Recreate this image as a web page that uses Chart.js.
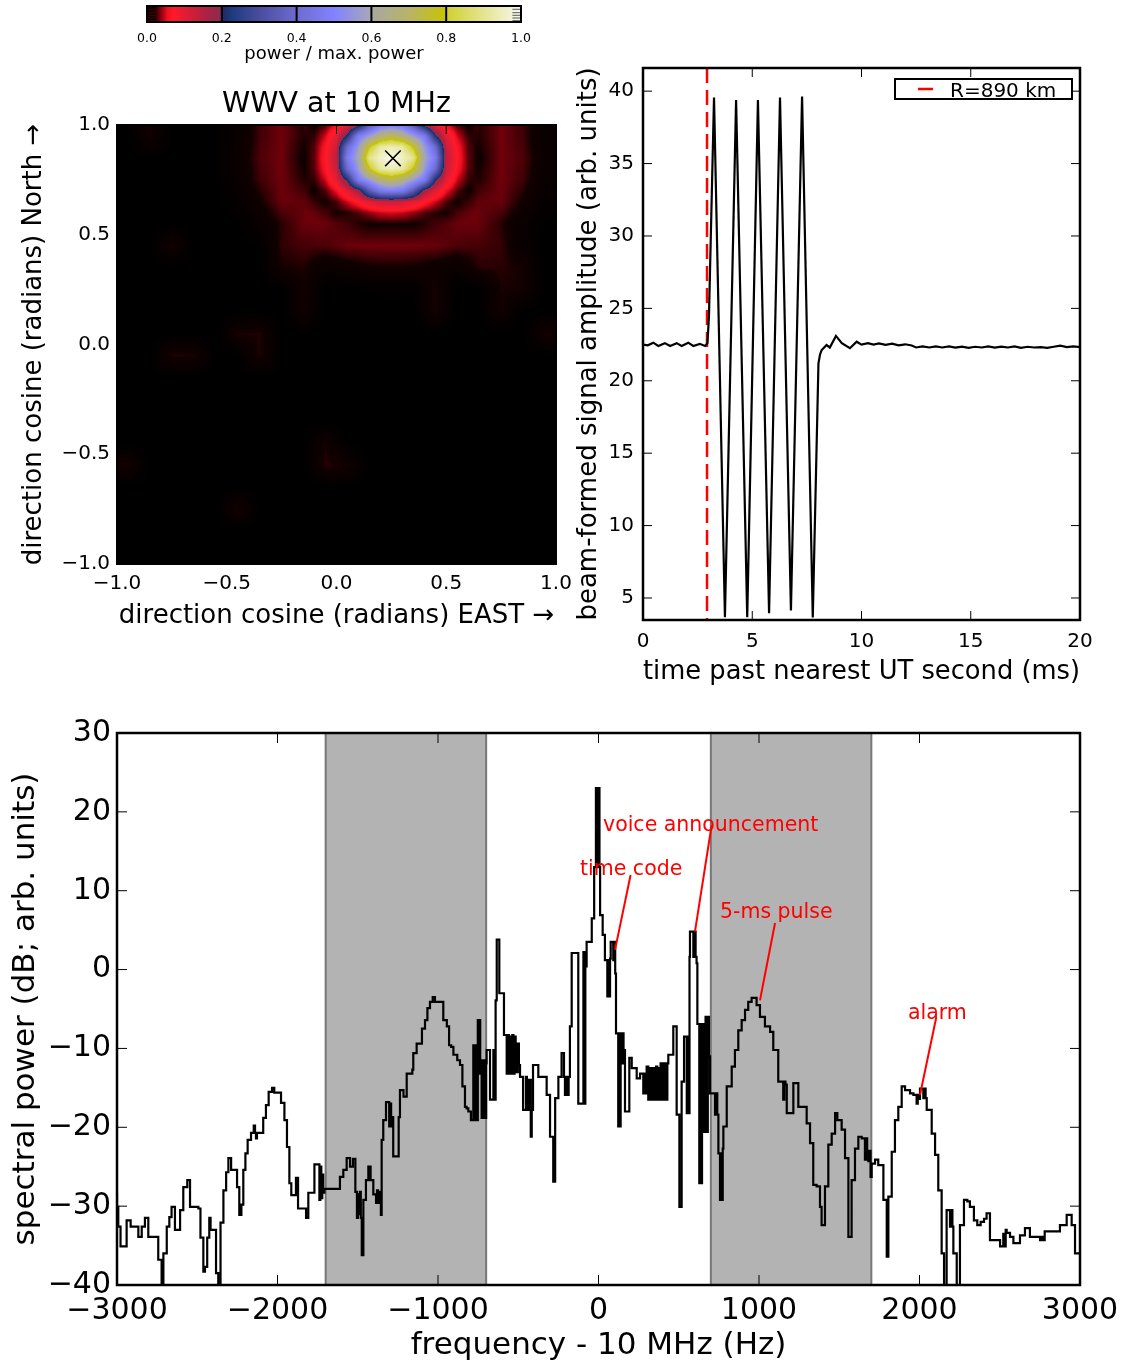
<!DOCTYPE html>
<html>
<head>
<meta charset="utf-8">
<script src="https://cdn.jsdelivr.net/npm/chart.js@4.4.1/dist/chart.umd.min.js"></script>
<style>
  body { margin: 0; background: #fff; }
  #page { position: relative; width: 1135px; height: 1366px; overflow: hidden; }
  .box { position: absolute; }
</style>
</head>
<body>
<div id="page">
  <div class="box" style="left:100px;top:0;width:470px;height:70px"><canvas id="cbar" width="470" height="70"></canvas></div>
  <div class="box" style="left:0;top:70px;width:600px;height:570px"><canvas id="beam" width="600" height="570"></canvas></div>
  <div class="box" style="left:560px;top:40px;width:575px;height:660px"><canvas id="pulse" width="575" height="660"></canvas></div>
  <div class="box" style="left:0;top:700px;width:1135px;height:666px"><canvas id="spec" width="1135" height="666"></canvas></div>
</div>
<script>
// ---- colour map / colour bar ----
const cbarTicks = [0, 0.2, 0.4, 0.6, 0.8, 1.0];
const cmapStops = [0, 0.02, 0.03, 0.04, 0.055, 0.07, 0.1, 0.15, 0.199, 0.2, 0.23, 0.3, 0.4, 0.5, 0.6, 0.601, 0.7, 0.8, 0.801, 0.9, 1.0];
const cmapColors = ['#000000', '#120000', '#5a0008', '#a00010', '#f01020', '#ff1a28', '#e41c34', '#b42040', '#8a2c52', '#1c2a60',
  '#1e3c82', '#4a4c9e', '#6c6cd0', '#8282ff', '#a8a8b8', '#a8a8a0', '#b8b468', '#c8c400', '#d0d030', '#e4e490', '#f8f8ec'];

// ---- beam map (power / max power): coarse cells over the whole sky ----
const beamX = [-0.95, -0.85, -0.75, -0.65, -0.55, -0.45, -0.35, -0.25, -0.15, -0.05, 0.05, 0.15, 0.25, 0.35, 0.45, 0.55, 0.65, 0.75, 0.85, 0.95];
const beamY = [0.95, 0.85, 0.75, 0.65, 0.55, 0.45, 0.35, 0.25, 0.15, 0.05, -0.05, -0.15, -0.25, -0.35, -0.45, -0.55, -0.65, -0.75, -0.85, -0.95];
const beamPower = [
  [0, 0.02, 0, 0, 0.001, 0.01, 0.026, 0.033, 0.022, 0.048, 0.216, 0.564, 0.72, 0.564, 0.216, 0.048, 0.022, 0.033, 0.026, 0.01],
  [0, 0, 0, 0, 0.001, 0.012, 0.028, 0.033, 0.018, 0.07, 0.47, 0.9, 1.0, 0.9, 0.47, 0.07, 0.018, 0.033, 0.028, 0.012],
  [0, 0, 0, 0, 0.001, 0.01, 0.026, 0.033, 0.022, 0.048, 0.216, 0.564, 0.72, 0.564, 0.216, 0.048, 0.022, 0.033, 0.026, 0.01],
  [0, 0, 0, 0, 0, 0.006, 0.019, 0.032, 0.031, 0.019, 0.048, 0.1, 0.126, 0.1, 0.048, 0.019, 0.031, 0.032, 0.019, 0.006],
  [0, 0, 0, 0, 0, 0.001, 0.01, 0.023, 0.032, 0.032, 0.026, 0.019, 0.02, 0.019, 0.026, 0.032, 0.032, 0.023, 0.01, 0.001],
  [0, 0, 0.02, 0, 0, 0, 0.002, 0.024, 0.027, 0.028, 0.032, 0.033, 0.033, 0.033, 0.032, 0.028, 0.027, 0.025, 0.01, 0],
  [0, 0, 0, 0, 0, 0, 0, 0.02, 0.022, 0.01, 0.015, 0.019, 0.02, 0.019, 0.015, 0.01, 0.023, 0.023, 0.02, 0],
  [0, 0, 0, 0, 0, 0, 0, 0, 0.019, 0, 0.001, 0.002, 0.003, 0.002, 0.021, 0, 0, 0.021, 0.02, 0],
  [0, 0, 0, 0, 0, 0, 0, 0, 0.018, 0, 0, 0, 0, 0, 0.021, 0, 0, 0.019, 0, 0],
  [0, 0, 0, 0, 0, 0.021, 0.022, 0, 0, 0, 0, 0, 0, 0, 0, 0, 0, 0, 0, 0.02],
  [0, 0, 0.022, 0.021, 0, 0, 0.022, 0, 0, 0, 0, 0, 0, 0, 0, 0, 0, 0, 0, 0],
  [0, 0, 0, 0, 0, 0, 0, 0, 0, 0, 0, 0, 0, 0, 0, 0, 0, 0, 0, 0],
  [0, 0, 0, 0, 0, 0, 0, 0, 0, 0, 0, 0, 0, 0, 0, 0, 0, 0, 0, 0],
  [0, 0, 0, 0, 0, 0, 0, 0, 0, 0, 0, 0, 0, 0, 0, 0, 0, 0, 0, 0],
  [0, 0, 0, 0, 0, 0, 0, 0, 0, 0.02, 0, 0, 0, 0, 0, 0, 0, 0, 0, 0],
  [0.02, 0, 0, 0, 0, 0, 0, 0, 0, 0.023, 0.02, 0, 0, 0, 0, 0, 0, 0, 0, 0],
  [0, 0, 0, 0, 0, 0, 0, 0, 0, 0, 0, 0, 0, 0, 0, 0, 0, 0, 0, 0],
  [0, 0, 0, 0, 0, 0.021, 0, 0, 0, 0, 0, 0, 0, 0, 0, 0, 0, 0, 0, 0],
  [0, 0, 0, 0, 0, 0, 0, 0, 0, 0, 0, 0, 0, 0, 0, 0, 0, 0, 0, 0],
  [0, 0, 0, 0, 0, 0, 0, 0, 0, 0, 0, 0, 0, 0, 0, 0, 0, 0, 0, 0]
];
// finer cells around the main lobe and first ring
const coreX = [-0.15, -0.1, -0.05, 0, 0.05, 0.1, 0.15, 0.2, 0.25, 0.3, 0.35, 0.4, 0.45, 0.5, 0.55, 0.6, 0.65];
const coreY = [1.0, 0.95, 0.9, 0.85, 0.8, 0.75, 0.7, 0.65, 0.6, 0.55];
const corePower = [
  [0.027, 0.018, 0.028, 0.056, 0.099, 0.166, 0.344, 0.461, 0.483, 0.461, 0.344, 0.166, 0.099, 0.056, 0.028, 0.018, 0.027],
  [0.022, 0.024, 0.048, 0.096, 0.216, 0.474, 0.564, 0.664, 0.72, 0.664, 0.564, 0.474, 0.216, 0.096, 0.048, 0.024, 0.022],
  [0.019, 0.029, 0.064, 0.128, 0.402, 0.565, 0.784, 0.922, 0.942, 0.922, 0.784, 0.565, 0.402, 0.128, 0.064, 0.029, 0.019],
  [0.018, 0.03, 0.07, 0.14, 0.47, 0.6, 0.9, 0.96, 1.0, 0.96, 0.9, 0.6, 0.47, 0.14, 0.07, 0.03, 0.018],
  [0.019, 0.029, 0.064, 0.128, 0.402, 0.565, 0.784, 0.922, 0.942, 0.922, 0.784, 0.565, 0.402, 0.128, 0.064, 0.029, 0.019],
  [0.022, 0.024, 0.048, 0.096, 0.216, 0.474, 0.564, 0.664, 0.72, 0.664, 0.564, 0.474, 0.216, 0.096, 0.048, 0.024, 0.022],
  [0.027, 0.018, 0.028, 0.056, 0.099, 0.166, 0.344, 0.461, 0.483, 0.461, 0.344, 0.166, 0.099, 0.056, 0.028, 0.018, 0.027],
  [0.031, 0.025, 0.019, 0.027, 0.048, 0.07, 0.1, 0.119, 0.126, 0.119, 0.1, 0.07, 0.048, 0.027, 0.019, 0.025, 0.031],
  [0.033, 0.031, 0.027, 0.02, 0.022, 0.028, 0.038, 0.047, 0.05, 0.047, 0.038, 0.028, 0.022, 0.02, 0.027, 0.031, 0.033],
  [0.032, 0.033, 0.032, 0.029, 0.026, 0.022, 0.019, 0.02, 0.02, 0.02, 0.019, 0.022, 0.026, 0.029, 0.032, 0.033, 0.032]
];
const peakDir = [0.257, 0.848];
const dirTicks = [-1, -0.5, 0, 0.5, 1];

// ---- beam-formed signal (ms, arb. units) ----
const pulseTime = [0, 0.22, 0.47, 0.7, 1.0, 1.24, 1.54, 1.77, 2.07, 2.3,
  2.6, 2.84, 2.95, 3.02, 3.25, 3.75, 4.26, 4.77, 5.26, 5.77,
  6.27, 6.77, 7.28, 7.77, 8.03, 8.1, 8.17, 8.4, 8.55, 8.83,
  9.1, 9.47, 9.78, 10.0, 10.3, 10.55, 10.8, 11.1, 11.4, 11.7,
  12.0, 12.3, 12.5, 12.8, 13.1, 13.4, 13.7, 14.0, 14.3, 14.6,
  14.9, 15.2, 15.5, 15.8, 16.1, 16.4, 16.7, 17.0, 17.3, 17.6,
  17.9, 18.2, 18.5, 18.8, 19.1, 19.4, 19.7, 20.0];
const pulseAmp = [22.5, 22.45, 22.63, 22.4, 22.6, 22.4, 22.6, 22.4, 22.63, 22.4,
  22.55, 22.4, 22.6, 24.5, 39.56, 3.68, 39.38, 3.68, 39.38, 3.95,
  39.56, 4.13, 39.63, 3.65, 21.2, 21.8, 22.1, 22.47, 22.3, 23.1,
  22.6, 22.25, 22.7, 22.5, 22.6, 22.5, 22.58, 22.48, 22.56, 22.45,
  22.52, 22.44, 22.3, 22.38, 22.3, 22.38, 22.3, 22.37, 22.29, 22.36,
  22.28, 22.35, 22.3, 22.37, 22.29, 22.36, 22.3, 22.37, 22.28, 22.35,
  22.3, 22.33, 22.27, 22.35, 22.42, 22.33, 22.38, 22.33];
const rangeMarkMs = 2.93;
const pulseMin = 3.48, pulseMax = 41.6;
const pulseXTicks = [0, 5, 10, 15, 20];
const pulseYTicks = [5, 10, 15, 20, 25, 30, 35, 40];

// ---- spectrum (Hz offset from 10 MHz, dB) ----
const specFreq = [
  -3000, -2992, -2978, -2940, -2915, -2867, -2846, -2826, -2805, -2743,
  -2722, -2711, -2690, -2674, -2660, -2639, -2607, -2587, -2562, -2545,
  -2493, -2480, -2462, -2452, -2438, -2425, -2417, -2383, -2369, -2355,
  -2337, -2320, -2306, -2289, -2252, -2238, -2225, -2213, -2200, -2186,
  -2165, -2148, -2140, -2134, -2128, -2089, -2072, -2055, -2034, -2020,
  -1978, -1957, -1941, -1926, -1914, -1885, -1872, -1822, -1808, -1770,
  -1739, -1733, -1727, -1721, -1715, -1708, -1611, -1590, -1569, -1548,
  -1530, -1515, -1505, -1499, -1493, -1487, -1481, -1475, -1465, -1449,
  -1434, -1420, -1403, -1386, -1380, -1374, -1368, -1362, -1356, -1351,
  -1341, -1324, -1304, -1298, -1292, -1286, -1279, -1245, -1237, -1215,
  -1195, -1160, -1154, -1133, -1100, -1081, -1066, -1050, -1033, -1019,
  -967, -945, -931, -918, -904, -880, -863, -848, -832, -822,
  -811, -795, -780, -770, -764, -758, -752, -749, -743, -737,
  -731, -728, -722, -716, -710, -704, -700, -697, -676, -655,
  -648, -641, -634, -618, -589, -572, -565, -558, -551, -544,
  -537, -530, -523, -516, -510, -503, -496, -489, -470, -452,
  -446, -440, -434, -428, -422, -416, -408, -375, -323, -302,
  -282, -270, -250, -230, -215, -209, -198, -192, -186, -178,
  -167, -126, -94, -88, -82, -76, -74, -42, -27, -16,
  -12, -8, -4, 2, 6, 10, 26, 40, 55, 61,
  67, 72, 76, 92, 98, 104, 109, 123, 128, 133,
  138, 144, 150, 156, 160, 165, 192, 207, 238, 259,
  279, 286, 293, 300, 310, 317, 324, 331, 338, 345,
  352, 359, 366, 373, 380, 387, 394, 401, 408, 415,
  422, 429, 435, 466, 487, 504, 518, 533, 550, 556,
  562, 567, 570, 591, 598, 605, 611, 616, 628, 634,
  640, 645, 649, 655, 661, 667, 674, 681, 688, 695,
  726, 733, 740, 747, 757, 763, 769, 774, 778, 799,
  830, 850, 871, 892, 913, 933, 954, 985, 1006, 1037,
  1069, 1089, 1120, 1151, 1158, 1165, 1173, 1214, 1245, 1297,
  1318, 1338, 1359, 1380, 1390, 1411, 1432, 1453, 1474, 1488,
  1515, 1536, 1557, 1577, 1598, 1619, 1640, 1660, 1667, 1674,
  1681, 1688, 1695, 1702, 1723, 1743, 1775, 1796, 1806, 1827,
  1847, 1868, 1889, 1910, 1941, 1962, 1982, 1989, 1996, 2003,
  2024, 2031, 2038, 2045, 2076, 2097, 2117, 2138, 2153, 2169,
  2190, 2198, 2205, 2211, 2232, 2252, 2277, 2298, 2314, 2339,
  2360, 2381, 2402, 2418, 2439, 2502, 2522, 2530, 2537, 2543,
  2564, 2585, 2626, 2657, 2688, 2751, 2760, 2770, 2780, 2875,
  2917, 2948, 2969, 2990, 3000];
const specPower = [
  -28.4, -30.1, -32.6, -35.1, -31.8, -32.6, -33.9, -32.6, -31.5, -33.9,
  -36.8, -41, -36, -32.6, -31.4, -30.1, -33, -30.5, -27.6, -26.7,
  -30.1, -30.3, -34, -38.3, -37.7, -34, -31.5, -33, -38.5, -41,
  -32.1, -28, -25.7, -23.9, -25.4, -27.6, -31.1, -29.8, -25.4, -23.3,
  -21.6, -20.7, -19.8, -20.7, -21.4, -20.7, -18.8, -17.2, -15.5, -15,
  -15.6, -16.9, -19.1, -22.5, -27.1, -28.6, -26.4, -30.3, -31.5, -28.3,
  -24.7, -29.2, -25, -29, -26, -28.3, -27.8, -26.3, -25.4, -23.9,
  -25, -24, -28.2, -31.5, -28.5, -31, -28.2, -31.5, -36.2, -29.2,
  -26.7, -25, -26.7, -28.5, -29.6, -28, -29.6, -28.2, -29.4, -31.1,
  -21.6, -19.1, -16.8, -19.9, -17, -19.9, -18.7, -23.7, -18.7, -15.3,
  -16.1, -13.2, -12.7, -10.6, -9.4, -7.5, -6.4, -4.9, -4.1, -3.5,
  -4.1, -6.4, -7.2, -9.6, -9.8, -10.8, -11.5, -12.1, -14.8, -17.4,
  -17.6, -18, -19.1, -9.6, -19.1, -9.6, -19.1, -6.4, -13.2, -6.4,
  -13.2, -11.5, -18.8, -11.5, -18.8, -11.5, -18.8, -11.9, -10.2, -16.5,
  -10.2, -16.5, -3.9, 3.8, -3, -8.3, -13.2, -8.3, -13.2, -8.5,
  -13.2, -8.3, -13.2, -8.5, -9.4, -13, -9.4, -12.1, -13.6, -17.8,
  -13.6, -17.8, -14, -17.8, -14, -21.2, -17.8, -12.1, -13.6, -15.9,
  -21.2, -26.9, -16.3, -13.6, -10.6, -13.6, -15.9, -13.6, -15.9, -13.6,
  -7.2, 2.1, -17, 2.2, -17, 2.2, 0.4, 3.5, 6.5, 13,
  23, 13, 23, 13, 23, 13, 6.9, 4.4, 1.2, -3.4,
  1.2, -3.4, 1.4, 3.5, 1.2, 3.5, -0.5, -8.1, -19.9, -8.1,
  -19.9, -8.1, -11.9, -8.1, -11.9, -10.2, -18, -11.2, -12.5, -13.8,
  -13.2, -15.7, -13.2, -15.7, -12.3, -16.5, -12.5, -16.5, -12.5, -16.5,
  -12.5, -16.5, -12.3, -16.5, -12.5, -16.5, -11.9, -16.5, -11.9, -16.5,
  -11.9, -16.5, -11.9, -10.8, -7.2, -18.4, -30.1, -14.2, -8.5, -18.2,
  -8.5, -18.2, 1.6, 4.8, 1.6, 4.8, 1.6, 0.8, -6.9, -27.1,
  -6.9, -27.1, -6.9, -20.6, -6.9, -20.6, -6, -20.6, -6, -11,
  -15.7, -18.4, -15.7, -18.4, -23.3, -29.2, -23.3, -29.2, -22.7, -19.9,
  -14.8, -12.3, -10.2, -7.7, -6.4, -5.1, -4.1, -3.6, -4.5, -6,
  -7.2, -7.9, -10.2, -14.2, -16.5, -14.2, -14.6, -18.2, -14.4, -17.4,
  -19.5, -22, -27.3, -27.5, -30.1, -32.4, -27.5, -22.2, -20.8, -18.2,
  -19.1, -20.3, -23.9, -33.9, -26.7, -22.7, -21.2, -21.4, -24.1, -21.4,
  -23, -24.3, -23, -26.3, -24.6, -24.1, -24.8, -29.2, -36.4, -28.8,
  -23.1, -19.1, -17.4, -14.8, -15.3, -15.7, -15.9, -17, -15.9, -16.4,
  -15.1, -16.3, -15.1, -16.3, -17.8, -20.8, -23.5, -28, -36, -41,
  -30.5, -32.6, -30.5, -32.6, -36, -41, -32.4, -29.2, -29.4, -30.1,
  -31.8, -32.4, -32, -31.6, -30.9, -34.3, -35.1, -33.5, -35.1, -33,
  -33.4, -33.9, -34.7, -33.7, -32.8, -33.9, -34.3, -33.9, -34.3, -33.2,
  -32.4, -31.1, -32.4, -36, -36];
const bandStart = [-1700, 700];
const bandEnd = [-700, 1700];
const specXTicks = [-3000, -2000, -1000, 0, 1000, 2000, 3000];
const specYTicks = [-40, -30, -20, -10, 0, 10, 20, 30];

// annotations: label, text anchor (left, baseline), line from -> to
const noteText = ['voice announcement', 'time code', '5-ms pulse', 'alarm'];
const noteTextX = [28, -115, 757, 1928];
const noteTextY = [17.6, 12.0, 6.5, -6.3];
const noteFromX = [705, 200, 1100, 2103];
const noteFromY = [18.3, 12.0, 5.9, -6.2];
const noteToX = [601, 103, 1006, 2003];
const noteToY = [4.8, 2.5, -3.9, -15.9];

Chart.defaults.font.family = "'DejaVu Sans', sans-serif";
Chart.defaults.color = '#000';
Chart.defaults.animation = false;
Chart.defaults.events = [];
Chart.defaults.plugins.legend.display = false;
Chart.defaults.plugins.tooltip.enabled = false;

const signed = v => (v < 0 ? '\u2212' : '') + Math.abs(v);
const signed1 = v => (v < 0 ? '\u2212' : '') + Math.abs(v).toFixed(1);

function linAxis(o) {
  return {
    type: 'linear',
    position: o.position,
    min: o.min,
    max: o.max,
    grid: { display: false, drawTicks: false },
    border: { display: false },
    afterBuildTicks: s => { s.ticks = o.ticks.map(v => ({ value: v })); },
    afterFit: s => { if (o.position === 'left') s.width = o.size; else s.height = o.size; },
    ticks: { display: o.tickSize > 0, font: { size: o.tickSize }, padding: o.tickPad, autoSkip: false, maxRotation: 0, color: '#000', callback: o.fmt },
    title: { display: !!o.title, text: o.title, color: '#000', font: { size: o.titleSize }, padding: o.titlePad || 0 }
  };
}

const cmapRGB = cmapColors.map(h => [parseInt(h.slice(1, 3), 16), parseInt(h.slice(3, 5), 16), parseInt(h.slice(5, 7), 16)]);
function cmap(v) {
  v = Math.min(Math.max(v, 0), 1);
  let k = 1;
  while (k < cmapStops.length - 1 && cmapStops[k] < v) k++;
  const t = (v - cmapStops[k - 1]) / (cmapStops[k] - cmapStops[k - 1]);
  const a = cmapRGB[k - 1], b = cmapRGB[k];
  return [a[0] + (b[0] - a[0]) * t, a[1] + (b[1] - a[1]) * t, a[2] + (b[2] - a[2]) * t];
}

// bilinear lookup in a grid of cell centres (like imshow interpolation)
function bilinear(xs, ys, grid, x, y) {
  const nx = xs.length, ny = ys.length;
  let gx = (x - xs[0]) / (xs[1] - xs[0]);
  let gy = (y - ys[0]) / (ys[1] - ys[0]);
  gx = Math.min(Math.max(gx, 0), nx - 1);
  gy = Math.min(Math.max(gy, 0), ny - 1);
  const i0 = Math.min(Math.floor(gx), nx - 2), j0 = Math.min(Math.floor(gy), ny - 2);
  const fx = gx - i0, fy = gy - j0;
  const r0 = grid[j0], r1 = grid[j0 + 1];
  return (r0[i0] * (1 - fx) + r0[i0 + 1] * fx) * (1 - fy) + (r1[i0] * (1 - fx) + r1[i0 + 1] * fx) * fy;
}
function sampleBeam(x, y) {
  const inCore = x >= coreX[0] && x <= coreX[coreX.length - 1] && y <= coreY[0] && y >= coreY[coreY.length - 1];
  return inCore ? bilinear(coreX, coreY, corePower, x, y) : bilinear(beamX, beamY, beamPower, x, y);
}

// matplotlib-like frame with inward ticks on all four sides
const mplFrame = {
  id: 'mplFrame',
  afterDraw(chart, args, opts) {
    const { ctx, chartArea: a } = chart;
    const xs = chart.scales.x, ys = chart.scales.y;
    const len = opts.len;
    ctx.save();
    ctx.strokeStyle = '#000';
    ctx.lineWidth = opts.tickWidth;
    ctx.beginPath();
    xs.ticks.forEach(t => {
      const p = xs.getPixelForValue(t.value);
      ctx.moveTo(p, a.bottom); ctx.lineTo(p, a.bottom - len);
      ctx.moveTo(p, a.top); ctx.lineTo(p, a.top + len);
    });
    if (ys.options.display) {
      ys.ticks.forEach(t => {
        const p = ys.getPixelForValue(t.value);
        ctx.moveTo(a.left, p); ctx.lineTo(a.left + len, p);
        ctx.moveTo(a.right, p); ctx.lineTo(a.right - len, p);
      });
    }
    ctx.stroke();
    ctx.lineWidth = opts.frame;
    ctx.strokeRect(a.left, a.top, a.right - a.left, a.bottom - a.top);
    ctx.restore();
  }
};

// colour bar gradient
const cbarFill = {
  id: 'cbarFill',
  beforeDatasetsDraw(chart) {
    const { ctx, chartArea: a, scales: { x } } = chart;
    const x0 = x.getPixelForValue(0), x1 = x.getPixelForValue(1);
    const g = ctx.createLinearGradient(x0, 0, x1, 0);
    cmapStops.forEach((s, i) => g.addColorStop(s, cmapColors[i]));
    ctx.save();
    ctx.fillStyle = g;
    ctx.fillRect(a.left, a.top, a.right - a.left, a.bottom - a.top);
    ctx.lineWidth = 1;
    [3.3, 6.7, 9.3, 12, 14.7].forEach(dy => {
      ctx.strokeStyle = '#5a5a5a';
      ctx.beginPath(); ctx.moveTo(x.getPixelForValue(0.977), a.top + dy); ctx.lineTo(x1, a.top + dy); ctx.stroke();
      ctx.strokeStyle = '#4a0000';
      ctx.beginPath(); ctx.moveTo(x0, a.top + dy); ctx.lineTo(x.getPixelForValue(0.022), a.top + dy); ctx.stroke();
    });
    ctx.restore();
  }
};

// interpolated beam image
const beamImage = {
  id: 'beamImage',
  beforeDatasetsDraw(chart) {
    const { ctx, chartArea: a, scales: { x, y } } = chart;
    const w = Math.round(a.right - a.left), h = Math.round(a.bottom - a.top);
    const off = document.createElement('canvas');
    off.width = w; off.height = h;
    const octx = off.getContext('2d');
    const img = octx.createImageData(w, h);
    for (let j = 0; j < h; j++) {
      const dy = y.getValueForPixel(a.top + j + 0.5);
      for (let i = 0; i < w; i++) {
        const dx = x.getValueForPixel(a.left + i + 0.5);
        const c = cmap(sampleBeam(dx, dy));
        const k = (j * w + i) * 4;
        img.data[k] = c[0]; img.data[k + 1] = c[1]; img.data[k + 2] = c[2]; img.data[k + 3] = 255;
      }
    }
    octx.putImageData(img, 0, 0);
    ctx.drawImage(off, a.left, a.top, a.right - a.left, a.bottom - a.top);
  }
};

const legendBox = {
  id: 'legendBox',
  afterDraw(chart) {
    const ds = chart.data.datasets[1];
    const { ctx, chartArea: a } = chart;
    const x0 = a.right - 185, y0 = a.top + 11, w = 177, h = 20;
    ctx.save();
    ctx.fillStyle = '#fff';
    ctx.fillRect(x0, y0, w, h);
    ctx.strokeStyle = '#000'; ctx.lineWidth = 2;
    ctx.strokeRect(x0, y0, w, h);
    ctx.strokeStyle = ds.borderColor; ctx.lineWidth = 2.5;
    ctx.beginPath(); ctx.moveTo(x0 + 23, y0 + 10); ctx.lineTo(x0 + 38, y0 + 10); ctx.stroke();
    ctx.fillStyle = '#000';
    ctx.font = "20px 'DejaVu Sans'";
    ctx.textBaseline = 'alphabetic';
    ctx.fillText(ds.label, x0 + 55, y0 + 17.5);
    ctx.restore();
  }
};

const bands = {
  id: 'bands',
  beforeDatasetsDraw(chart) {
    const { ctx, chartArea: a, scales: { x } } = chart;
    ctx.save();
    bandStart.forEach((s, i) => {
      const x0 = x.getPixelForValue(s), x1 = x.getPixelForValue(bandEnd[i]);
      ctx.fillStyle = '#b3b3b3';
      ctx.fillRect(x0, a.top, x1 - x0, a.bottom - a.top);
      ctx.strokeStyle = '#777777'; ctx.lineWidth = 2;
      ctx.beginPath();
      ctx.moveTo(x0, a.top); ctx.lineTo(x0, a.bottom);
      ctx.moveTo(x1, a.top); ctx.lineTo(x1, a.bottom);
      ctx.stroke();
    });
    ctx.restore();
  }
};

const notes = {
  id: 'notes',
  afterDatasetsDraw(chart) {
    const { ctx, scales: { x, y } } = chart;
    ctx.save();
    ctx.strokeStyle = '#ff0000'; ctx.fillStyle = '#ff0000'; ctx.lineWidth = 2;
    ctx.font = "20.5px 'DejaVu Sans'";
    ctx.textBaseline = 'alphabetic';
    noteText.forEach((t, i) => {
      ctx.fillText(t, x.getPixelForValue(noteTextX[i]), y.getPixelForValue(noteTextY[i]));
      ctx.beginPath();
      ctx.moveTo(x.getPixelForValue(noteFromX[i]), y.getPixelForValue(noteFromY[i]));
      ctx.lineTo(x.getPixelForValue(noteToX[i]), y.getPixelForValue(noteToY[i]));
      ctx.stroke();
    });
    ctx.restore();
  }
};

// colour bar
new Chart(document.getElementById('cbar'), {
  type: 'scatter',
  data: { datasets: [] },
  options: {
    responsive: false,
    layout: { padding: { left: 47, right: 49, top: 6, bottom: 0 } },
    plugins: { mplFrame: { len: 16, tickWidth: 2, frame: 2 } },
    scales: {
      x: linAxis({ position: 'bottom', min: 0, max: 1, ticks: cbarTicks, fmt: v => v.toFixed(1), tickSize: 12.5, tickPad: 8.8, size: 48,
        title: 'power / max. power', titleSize: 18, titlePad: { top: 0, bottom: 4.5 } }),
      y: { display: false, min: 0, max: 1 }
    }
  },
  plugins: [cbarFill, mplFrame]
});

// beam map
new Chart(document.getElementById('beam'), {
  type: 'scatter',
  data: {
    datasets: [{ data: [{ x: peakDir[0], y: peakDir[1] }], pointStyle: 'crossRot', pointRadius: 11, borderWidth: 1.5, borderColor: '#000', backgroundColor: '#000' }]
  },
  options: {
    responsive: false,
    layout: { padding: { left: 0, right: 44, top: 0, bottom: 0 } },
    plugins: { mplFrame: { len: 9, tickWidth: 1, frame: 2 } },
    scales: {
      x: linAxis({ position: 'bottom', min: -1, max: 1, ticks: dirTicks, fmt: signed1, tickSize: 20, tickPad: 8, size: 76,
        title: 'direction cosine (radians) EAST \u2192', titleSize: 26, titlePad: { top: 0, bottom: 8 } }),
      x2: linAxis({ position: 'top', min: -1, max: 1, ticks: dirTicks, fmt: () => '', tickSize: 0, tickPad: 0, size: 55,
        title: 'WWV at 10 MHz', titleSize: 28.5, titlePad: { top: 17.2, bottom: 0 } }),
      y: linAxis({ position: 'left', min: -1, max: 1, ticks: dirTicks, fmt: signed1, tickSize: 20, tickPad: 7, size: 117,
        title: 'direction cosine (radians) North \u2192', titleSize: 26, titlePad: { top: 18.2, bottom: 0 } })
    }
  },
  plugins: [beamImage, mplFrame]
});

// beam-formed signal
new Chart(document.getElementById('pulse'), {
  type: 'line',
  data: {
    datasets: [
      { data: pulseTime.map((t, i) => ({ x: t, y: pulseAmp[i] })), borderColor: '#000', borderWidth: 2.2, pointRadius: 0, tension: 0 },
      { label: 'R=890 km', data: [{ x: rangeMarkMs, y: pulseMax }, { x: rangeMarkMs, y: pulseMin }], borderColor: '#ff0000', borderWidth: 2.5, borderDash: [15, 7], pointRadius: 0 }
    ]
  },
  options: {
    responsive: false,
    layout: { padding: { left: 0, right: 55, top: 28, bottom: 0 } },
    plugins: { mplFrame: { len: 9, tickWidth: 1, frame: 2.5 } },
    scales: {
      x: linAxis({ position: 'bottom', min: 0, max: 20, ticks: pulseXTicks, fmt: signed, tickSize: 20, tickPad: 10, size: 80,
        title: 'time past nearest UT second (ms)', titleSize: 26, titlePad: { top: 0, bottom: 12 } }),
      y: linAxis({ position: 'left', min: pulseMin, max: pulseMax, ticks: pulseYTicks, fmt: signed, tickSize: 20, tickPad: 9, size: 83,
        title: 'beam-formed signal amplitude (arb. units)', titleSize: 26, titlePad: { top: 13.7, bottom: 0 } })
    }
  },
  plugins: [mplFrame, legendBox]
});

// spectrum
new Chart(document.getElementById('spec'), {
  type: 'line',
  data: {
    datasets: [{ data: specFreq.map((f, i) => ({ x: f, y: specPower[i] })), stepped: 'after', borderColor: '#000', borderWidth: 2.2, pointRadius: 0 }]
  },
  options: {
    responsive: false,
    layout: { padding: { left: 0, right: 55, top: 33, bottom: 0 } },
    plugins: { mplFrame: { len: 10, tickWidth: 1, frame: 2.5 } },
    scales: {
      x: linAxis({ position: 'bottom', min: -3000, max: 3000, ticks: specXTicks, fmt: signed, tickSize: 30, tickPad: 8, size: 81,
        title: 'frequency - 10 MHz (Hz)', titleSize: 31, titlePad: { top: 0, bottom: 1.4 } }),
      y: linAxis({ position: 'left', min: -40, max: 30, ticks: specYTicks, fmt: signed, tickSize: 30, tickPad: 6, size: 117,
        title: 'spectral power (dB; arb. units)', titleSize: 31, titlePad: { top: 7.2, bottom: 0 } })
    }
  },
  plugins: [bands, notes, mplFrame]
});
</script>
</body>
</html>
